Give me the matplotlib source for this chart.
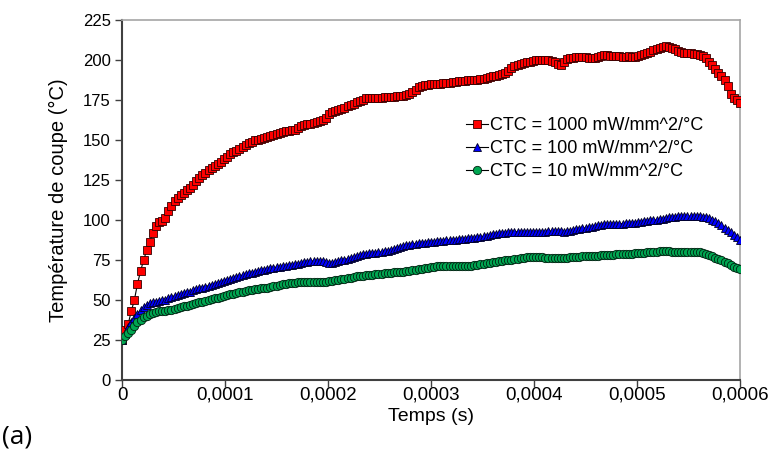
import numpy as np
import matplotlib
matplotlib.use("Agg")
import matplotlib.pyplot as plt
from matplotlib import font_manager

# ---------------- data ----------------
time_s = np.linspace(0.0, 0.0006, 201)

ctc_1000 = [
    25, 31, 35, 43, 50, 60, 68, 75, 81, 86.5,
    92, 96.5, 98.5, 99.5, 101, 105.5, 109, 112, 114, 115.8,
    116.8, 118.5, 120, 122, 124.5, 126.5, 128.3, 129.5, 131, 132.2,
    133.6, 135, 136.5, 138, 139.5, 141, 142.3, 143.3, 144.5, 145.8,
    147, 148, 149, 149.8, 150.3, 150.9, 151.4, 151.8, 152.2, 153,
    153.8, 154.5, 155, 155.4, 155.8, 156, 156.5, 157.8, 159, 159.5,
    160, 160.3, 160.6, 161.2, 162, 162.5, 164, 166, 167.3, 168.2,
    169, 169.6, 170.3, 171.2, 172, 172.8, 173.5, 174.5, 175.3, 176,
    176.3, 176.4, 176.3, 176.1, 176.3, 176.6, 176.8, 177, 177, 177.2,
    177.3, 177.6, 178, 179, 180, 181.5, 183, 184, 184.5, 184.6,
    184.8, 185, 185, 185.2, 185.4, 185.6, 185.9, 186.2, 186.4, 186.6,
    186.8, 187, 187.2, 187.4, 187.6, 187.8, 188, 188.3, 188.7, 189.2,
    189.7, 190.2, 190.8, 191.2, 191.6, 193, 195, 196, 196.8, 197.5,
    198, 198.5, 199, 199.5, 200, 200.2, 200.2, 200, 199.8, 199.5,
    198.5, 197.5, 197, 199, 200.8, 201.3, 201.5, 201.8, 202, 202,
    201.6, 201.3, 201.2, 201.5, 202, 202.5, 203, 203, 202.8, 202.6,
    202.4, 202.2, 202, 202, 202.2, 202, 202, 202.3, 203, 203.8,
    204.5, 205.2, 206, 206.8, 207.5, 208, 208.8, 208.4, 207.8, 207,
    205.8, 205, 204.6, 204.4, 204.2, 204, 203.8, 203.3, 202.6, 201,
    199, 197, 194.5, 192, 190, 187.5, 184, 179, 176.5, 175,
    173,
]

ctc_100 = [
    25, 29, 33, 36.5, 39, 41.5, 43.5, 45.5, 47, 48,
    48.5, 49, 49.3, 49.8, 50.3, 51, 52, 52.6, 53.2, 53.8,
    54.3, 54.8, 55.3, 56, 56.6, 57.2, 57.7, 58.3, 59, 59.6,
    60.2, 60.8, 61.5, 62.1, 62.7, 63.3, 63.9, 64.4, 65, 65.6,
    66.1, 66.6, 67.1, 67.6, 68.1, 68.5, 68.9, 69.3, 69.7, 70.1,
    70.5, 70.8, 71.1, 71.4, 71.7, 72, 72.3, 72.7, 73.1, 73.5,
    73.9, 74.2, 74.4, 74.6, 74.5, 74.2, 73.8, 73.4, 73.3, 73.6,
    74.2, 74.8, 75.3, 75.8, 76.2, 76.7, 77.3, 78, 78.5, 78.9,
    79.2, 79.4, 79.6, 79.8, 80.1, 80.4, 80.8, 81.3, 81.9, 82.5,
    83.1, 83.7, 84.2, 84.6, 85, 85.3, 85.5, 85.7, 85.9, 86.1,
    86.3, 86.5, 86.7, 86.9, 87.1, 87.3, 87.5, 87.7, 87.8, 88,
    88.2, 88.4, 88.6, 88.8, 89, 89.2, 89.5, 89.8, 90.2, 90.6,
    91, 91.4, 91.7, 91.9, 92.1, 92.3, 92.5, 92.6, 92.7, 92.8,
    92.8, 92.7, 92.7, 92.7, 92.6, 92.5, 92.6, 92.8, 93, 93.1,
    93.2, 93.1, 92.9, 92.8, 93, 93.4, 93.9, 94.3, 94.6, 94.8,
    95.1, 95.5, 95.9, 96.3, 96.7, 97, 97.2, 97.3, 97.4, 97.5,
    97.6, 97.7, 97.8, 97.9, 98, 98.1, 98.3, 98.6, 98.9, 99.2,
    99.5, 99.7, 99.9, 100.1, 100.4, 100.8, 101.2, 101.6, 101.9, 102.1,
    102.2, 102.3, 102.3, 102.3, 102.4, 102.4, 102.4, 102.3, 102.1, 101.7,
    101.1, 100.2, 99.2, 98, 96.6, 95.2, 93.8, 92.4, 90.8, 89.2,
    87.5,
]

ctc_10 = [
    25, 27.5, 29.5, 31.5, 34, 36, 37.8, 39.2, 40.2, 41.2,
    42, 42.6, 43, 43.1, 43.2, 43.5, 43.8, 44.2, 44.8, 45.4,
    46, 46.5, 47, 47.5, 48, 48.5, 49, 49.5, 50, 50.5,
    51, 51.5, 52, 52.5, 53, 53.5, 54, 54.4, 54.8, 55.2,
    55.6, 56, 56.3, 56.6, 56.9, 57.2, 57.5, 57.8, 58.2, 58.6,
    59, 59.4, 59.8, 60.1, 60.4, 60.6, 60.8, 61, 61, 61,
    61, 61, 61.2, 61.4, 61.5, 61.5, 61.5, 61.6, 61.9, 62.3,
    62.6, 62.9, 63.2, 63.6, 64, 64.4, 64.7, 65, 65.2, 65.4,
    65.6, 65.8, 66, 66.2, 66.4, 66.6, 66.8, 67, 67.2, 67.4,
    67.6, 67.8, 68, 68.3, 68.6, 68.9, 69.2, 69.5, 69.8, 70.1,
    70.4, 70.7, 71, 71.2, 71.4, 71.5, 71.5, 71.4, 71.3, 71.2,
    71.2, 71.2, 71.3, 71.5, 71.7, 72, 72.3, 72.6, 72.9, 73.2,
    73.5, 73.8, 74.1, 74.4, 74.7, 75, 75.3, 75.6, 75.9, 76.2,
    76.4, 76.6, 76.7, 76.8, 76.8, 76.7, 76.6, 76.5, 76.4, 76.3,
    76.2, 76.1, 76.1, 76.2, 76.4, 76.6, 76.8, 77, 77.1, 77.2,
    77.3, 77.4, 77.5, 77.6, 77.8, 78, 78.1, 78.2, 78.3, 78.4,
    78.5, 78.6, 78.7, 78.8, 78.9, 79, 79.1, 79.2, 79.4, 79.6,
    79.8, 80, 80.2, 80.3, 80.4, 80.4, 80.4, 80.4, 80.3, 80.2,
    80.2, 80.2, 80.2, 80.2, 80.2, 80.2, 80.1, 80, 79.6, 79,
    78.2, 77.3, 76.4, 75.6, 74.8, 73.9, 72.9, 71.9, 70.9, 70,
    69.3,
]

series_labels = ["CTC = 1000 mW/mm^2/°C", "CTC = 100 mW/mm^2/°C", "CTC = 10 mW/mm^2/°C"]
x_ticks = [0, 0.0001, 0.0002, 0.0003, 0.0004, 0.0005, 0.0006]
x_tick_labels = ["0", "0,0001", "0,0002", "0,0003", "0,0004", "0,0005", "0,0006"]
y_ticks = [0, 25, 50, 75, 100, 125, 150, 175, 200, 225]

# ---------------- style ----------------
plt.rcParams['font.family'] = ['Liberation Sans', 'DejaVu Sans']
names = {f.name for f in font_manager.fontManager.ttflist}
narrow = 'Liberation Sans Narrow' if 'Liberation Sans Narrow' in names else 'Liberation Sans'

fig = plt.figure(figsize=(7.69, 4.55), dpi=100)
ax = fig.add_axes([122/769, 75/455, (740-122)/769, (380-20)/455])

ax.plot(time_s, ctc_1000, color='black', lw=0.8, marker='s', ms=6,
        mfc='#FF0000', mec='#330000', mew=0.6, label=series_labels[0], zorder=3)
ax.plot(time_s, ctc_100, color='black', lw=0.8, marker='^', ms=6,
        mfc='#0000FF', mec='#000020', mew=0.6, label=series_labels[1], zorder=3)
ax.plot(time_s, ctc_10, color='black', lw=0.8, marker='o', ms=6,
        mfc='#00A651', mec='#002010', mew=0.6, label=series_labels[2], zorder=3)

ax.set_xlim(0, 0.0006)
ax.set_ylim(0, 225)
ax.set_xticks(x_ticks)
ax.set_xticklabels(x_tick_labels, fontfamily=narrow, fontsize=13.5)
ax.set_yticks(y_ticks)
ax.tick_params(axis='y', labelsize=12, direction='out', length=5, width=1, color='#404040', pad=3)
ax.tick_params(axis='x', direction='out', length=5, width=1, color='#404040', pad=0)

for s in ['left', 'bottom']:
    ax.spines[s].set_color('#404040')
    ax.spines[s].set_linewidth(1.5)
for s in ['top', 'right']:
    ax.spines[s].set_color('#A6A6A6')
    ax.spines[s].set_linewidth(1.2)

ax.set_xlabel("Temps (s)", fontfamily=narrow, fontsize=14, labelpad=3)
ax.set_ylabel("Température de coupe (°C)", fontsize=14.5, labelpad=11)

leg = ax.legend(loc='upper left', bbox_to_anchor=(466/769, 1 - 117/455),
                bbox_transform=fig.transFigure, frameon=False, fontsize=13,
                handlelength=1.2, handletextpad=0.15, labelspacing=0.34,
                borderpad=0, borderaxespad=0, markerscale=1.0)

fig.text(2/769, 1 - 437/455, "(a)", fontsize=19, family=['Open Sans', 'DejaVu Sans'],
         va='center', ha='left')

fig.savefig("out.png", dpi=100)
